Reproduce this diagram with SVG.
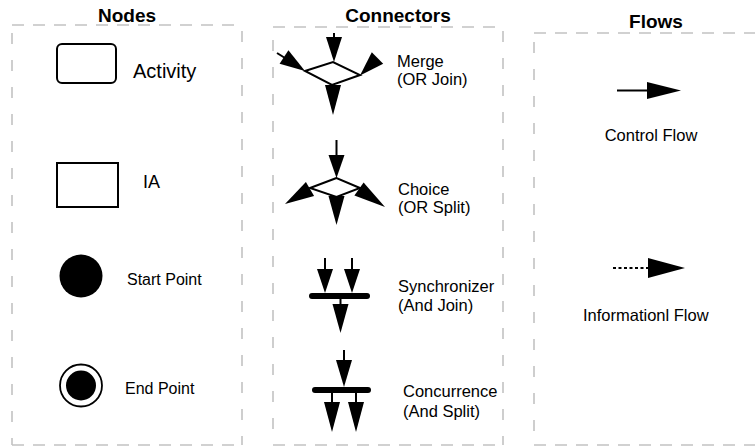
<svg xmlns="http://www.w3.org/2000/svg" width="755" height="447" viewBox="0 0 755 447">
<style>
.fr{stroke:#c2c2c2;stroke-width:1.6;fill:none}
.h{stroke-dasharray:12 9}
.v{stroke-dasharray:11 16}
.title{font-family:"Liberation Sans",Arial,sans-serif;font-weight:bold;font-size:19px;fill:#000}
.lbl{font-family:"Liberation Sans",Arial,sans-serif;font-size:16.5px;fill:#000}
.ln{stroke:#000;stroke-width:2;fill:none}
.sh{stroke:#000;stroke-width:2;fill:#fff}
.hd{fill:#000;stroke:none}
.bar{stroke:#000;stroke-width:6;stroke-linecap:round}
</style>
<rect width="755" height="447" fill="#fff"/>
<g id="frames">
  <line class="fr h" x1="12" y1="25" x2="242" y2="25"/>
  <line class="fr v" x1="12" y1="33" x2="12" y2="445"/>
  <line class="fr v" x1="242" y1="31" x2="242" y2="445"/>
  <line class="fr h" x1="12" y1="445" x2="242" y2="445"/>
  <line class="fr h" x1="273" y1="27" x2="503" y2="27"/>
  <line class="fr v" x1="273" y1="40" x2="273" y2="445"/>
  <line class="fr v" x1="503" y1="31" x2="503" y2="445"/>
  <line class="fr h" x1="273" y1="445" x2="503" y2="445"/>
  <line class="fr h" x1="534" y1="33" x2="755" y2="33"/>
  <line class="fr v" x1="534" y1="42" x2="534" y2="445"/>
  <line class="fr h" x1="534" y1="445" x2="755" y2="445"/>
</g>
<g id="titles">
  <text class="title" x="127" y="22" text-anchor="middle">Nodes</text>
  <text class="title" x="398" y="22" text-anchor="middle">Connectors</text>
  <text class="title" x="656" y="28" text-anchor="middle">Flows</text>
</g>
<g id="node-activity">
  <rect class="sh" x="57" y="44" width="59" height="39" rx="5"/>
  <text class="lbl" x="133" y="78" style="font-size:20px">Activity</text>
</g>
<g id="node-ia">
  <rect class="sh" x="57" y="163" width="61" height="44"/>
  <text class="lbl" x="143" y="188" style="font-size:18px">IA</text>
</g>
<g id="node-start">
  <circle cx="81" cy="276" r="21.5" fill="#000"/>
  <text class="lbl" x="127" y="285" style="font-size:16px">Start Point</text>
</g>
<g id="node-end">
  <circle cx="81" cy="385.5" r="21" fill="#fff" stroke="#000" stroke-width="1.8"/>
  <circle cx="81" cy="385.5" r="15" fill="#000"/>
  <text class="lbl" x="125" y="394" style="font-size:16px">End Point</text>
</g>
<g id="connectors">
  <g id="conn-merge">
    <polygon class="sh" points="305,71 333,62 360,75 332,85"/>
    <line class="ln" x1="334" y1="33" x2="334" y2="38"/>
    <polygon class="hd" points="326,37 342,37 334,62"/>
    <line class="ln" x1="277" y1="53" x2="285" y2="58"/>
    <polygon class="hd" points="279.6,63.7 288.4,50.3 305,71"/>
    <polygon class="hd" points="383.2,63.7 371.8,52.3 360,75.5"/>
    <polygon class="hd" points="325,85 341,85 333,115"/>
    <text class="lbl" x="397" y="67">Merge</text>
    <text class="lbl" x="397" y="85">(OR Join)</text>
  </g>
  <g id="conn-choice">
    <line class="ln" x1="336.5" y1="140" x2="336.5" y2="156"/>
    <polygon class="hd" points="328.5,155 344.5,155 336.5,178"/>
    <polygon class="sh" points="336.5,178 310,188 336.5,197 360,188"/>
    <polygon class="hd" points="314.1,195.9 305.9,182.1 285,204"/>
    <polygon class="hd" points="354.4,195.6 363.6,182.4 385,207"/>
    <polygon class="hd" points="328.5,196 344.5,196 336.5,225"/>
    <text class="lbl" x="398" y="195">Choice</text>
    <text class="lbl" x="398" y="213">(OR Split)</text>
  </g>
  <g id="conn-sync">
    <line class="ln" x1="325" y1="258" x2="325" y2="270"/>
    <line class="ln" x1="352" y1="258" x2="352" y2="270"/>
    <polygon class="hd" points="317,269 333,269 325,293"/>
    <polygon class="hd" points="344,269 360,269 352,293"/>
    <line class="bar" x1="312" y1="296" x2="367" y2="296"/>
    <line class="ln" x1="340.5" y1="296" x2="340.5" y2="305"/>
    <polygon class="hd" points="332.5,304 348.5,304 340.5,333"/>
    <text class="lbl" x="398" y="292">Synchronizer</text>
    <text class="lbl" x="398" y="311">(And Join)</text>
  </g>
  <g id="conn-concurrence">
    <line class="ln" x1="344" y1="350" x2="344" y2="361"/>
    <polygon class="hd" points="336,360 352,360 344,387"/>
    <line class="bar" x1="315" y1="390" x2="368" y2="390"/>
    <line class="ln" x1="332" y1="390" x2="332" y2="403"/>
    <line class="ln" x1="356" y1="390" x2="356" y2="403"/>
    <polygon class="hd" points="324,402 340,402 332,432"/>
    <polygon class="hd" points="348,402 364,402 356,432"/>
    <text class="lbl" x="403" y="397">Concurrence</text>
    <text class="lbl" x="403" y="417">(And Split)</text>
  </g>
</g>
<g id="flows">
  <g id="flow-control">
    <line class="ln" x1="617" y1="90.5" x2="649" y2="90.5"/>
    <polygon class="hd" points="647,82 647,99 681,90.5"/>
    <text class="lbl" x="651" y="141" text-anchor="middle">Control Flow</text>
  </g>
  <g id="flow-information">
    <line class="ln" x1="613" y1="268" x2="648" y2="268" stroke-dasharray="3 2.5"/>
    <polygon class="hd" points="648,258 648,278 685,268"/>
    <text class="lbl" x="583" y="321">Informationl Flow</text>
  </g>
</g>
</svg>
